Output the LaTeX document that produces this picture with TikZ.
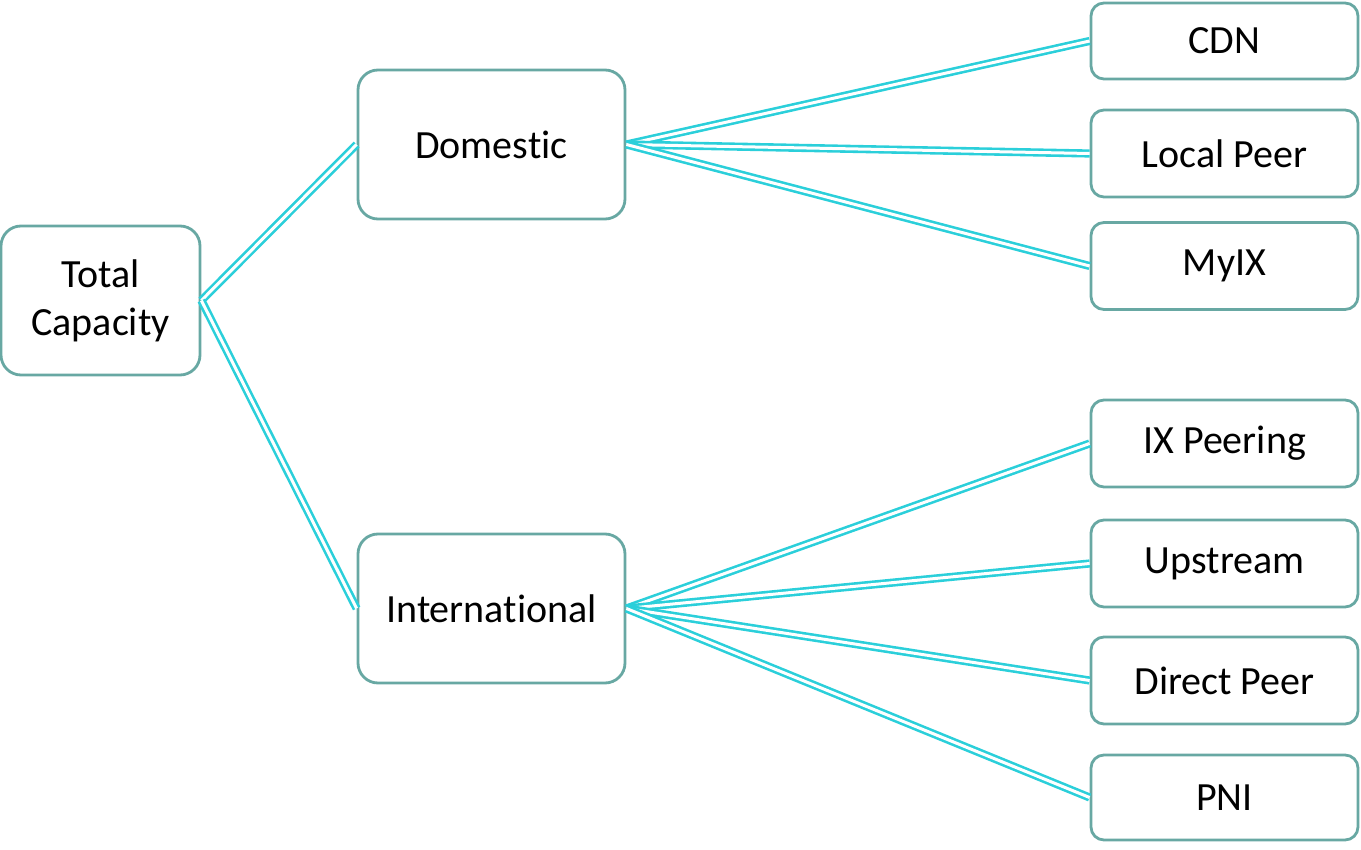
\documentclass[tikz,border=0pt]{standalone}
\usepackage{fontspec}
\setmainfont[Ligatures={NoCommon,NoRare,NoContextual}]{Carlito}
\definecolor{boxline}{HTML}{68A8A3}
\definecolor{link}{HTML}{2BCFDA}
\tikzset{
  item/.style={draw=boxline, line width=2.8pt, rounded corners=20pt, fill=white,
    align=center, font=\fontsize{40}{48}\selectfont, inner sep=0pt},
  bigbox/.style={item, minimum width=267pt, minimum height=149pt},
  leaf/.style={item, rounded corners=13pt, minimum width=267pt, minimum height=87pt},
  wire/.style={draw=link, line width=2.6pt, double=white, double distance=3pt}
}
\begin{document}
\begin{tikzpicture}[x=1pt, y=-1pt]
\useasboundingbox (0,0) rectangle (1361,850);
% top-level and branch boxes
\node[item, minimum width=199pt, minimum height=149pt] (total) at (100.5,300.5) {Total\\Capacity};
\node[bigbox] (dom) at (491.5,144.5) {Domes\kern0pt tic};
\node[bigbox] (intl) at (491.5,608.5) {International};
% leaf boxes
\node[leaf, minimum height=76pt] (cdn) at (1224.5,41) {CDN};
\node[leaf] (local) at (1224.5,153.5) {Local Peer};
\node[leaf] (myix) at (1224.5,266) {MyIX};
\node[leaf] (ixp) at (1224.5,443.5) {IX Peering};
\node[leaf] (up) at (1224.5,563.5) {Ups\kern0pt tream};
\node[leaf] (direct) at (1224.5,680.5) {Direct Peer};
\node[leaf, minimum height=85pt] (pni) at (1224.5,797.5) {PNI};
% connectors
\foreach \a/\b in {total/dom, total/intl, dom/cdn, dom/local, dom/myix,
                   intl/ixp, intl/up, intl/direct, intl/pni}
  \draw[wire] (\a.east) -- (\b.west);
\end{tikzpicture}
\end{document}
